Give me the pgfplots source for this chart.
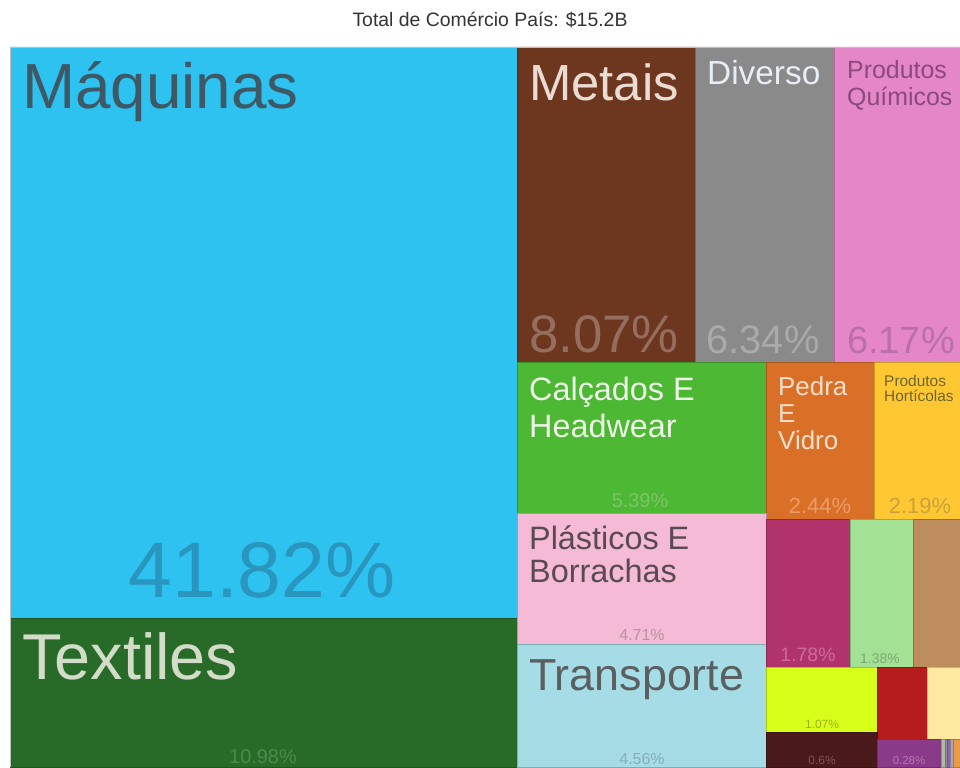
\documentclass[border=0pt]{standalone}
\usepackage{pgfplots}
\pgfplotsset{compat=1.18}
\usepackage{fontspec}
\setmainfont{Liberation Sans}
\definecolor{cMaq}{HTML}{2DC2F0}
\definecolor{cTex}{HTML}{286B29}
\definecolor{cMet}{HTML}{6D361E}
\definecolor{cDiv}{HTML}{8A8A8A}
\definecolor{cQui}{HTML}{E586C8}
\definecolor{cCal}{HTML}{4DB833}
\definecolor{cPed}{HTML}{DA6F28}
\definecolor{cHor}{HTML}{FFC832}
\definecolor{cPla}{HTML}{F5BAD5}
\definecolor{cTra}{HTML}{A5DCE5}
\definecolor{cMag}{HTML}{B1336C}
\definecolor{cLgr}{HTML}{A3E295}
\definecolor{cBro}{HTML}{BE8D5D}
\definecolor{cYgr}{HTML}{D7FF1A}
\definecolor{cRed}{HTML}{B71C1C}
\definecolor{cLye}{HTML}{FFE9A0}
\definecolor{cDbr}{HTML}{4A1A1A}
\definecolor{cPur}{HTML}{8A3A88}
\definecolor{cS1}{HTML}{A8C0A0}
\definecolor{cS2}{HTML}{9A8AB0}
\definecolor{cS3}{HTML}{8A6A9A}
\definecolor{cS4}{HTML}{B0A0C0}
\definecolor{cOra}{HTML}{E89A48}
\newcommand{\cell}[5]{\addplot[fill=#5, draw=#5!78!black, line width=0.7pt] coordinates {(#1,#2) (#3,#2) (#3,#4) (#1,#4) (#1,#2)};}
\newcommand{\fs}[1]{\fontsize{#1}{#1}\selectfont}
\begin{document}
\begin{tikzpicture}
\begin{axis}[width=960bp, height=767bp, scale only axis,
  xmin=0, xmax=960, ymin=0, ymax=767, y dir=reverse,
  hide axis, clip=true, no markers]
\path (axis cs:0,0) rectangle (axis cs:960,767);
\cell{10}{47}{517}{618}{cMaq}
\cell{10}{618}{517}{767}{cTex}
\cell{517}{47}{695}{362}{cMet}
\cell{695}{47}{834}{362}{cDiv}
\cell{834}{47}{960}{362}{cQui}
\cell{517}{362}{766}{513}{cCal}
\cell{766}{362}{874}{519}{cPed}
\cell{874}{362}{960}{519}{cHor}
\cell{517}{513}{766}{644}{cPla}
\cell{517}{644}{766}{767}{cTra}
\cell{766}{519}{850}{667}{cMag}
\cell{850}{519}{913}{667}{cLgr}
\cell{913}{519}{960}{667}{cBro}
\cell{766}{667}{877}{732}{cYgr}
\cell{877}{667}{927}{739}{cRed}
\cell{927}{667}{960}{739}{cLye}
\cell{766}{732}{877}{767}{cDbr}
\cell{877}{739}{941}{767}{cPur}
\cell{941}{739}{945}{767}{cS1}
\cell{945}{739}{947}{767}{cS2}
\cell{947}{739}{950}{767}{cS3}
\cell{950}{739}{953}{767}{cS4}
\cell{953}{739}{960}{767}{cOra}
\addplot[draw=black!25, line width=0.8pt] coordinates {(10,767) (10,47) (960,47)};
% title
\node[anchor=base, font=\fs{19.5}, text=black!80] at (axis cs:490,27) {Total de Comércio País: \$15.2B};
% labels
\node[anchor=base west, font=\fs{64}, text={rgb,255:red,63;green,88;blue,102}, inner sep=0] at (axis cs:22,108) {Máquinas};
\node[anchor=base, font=\fs{79}, text={rgb,255:red,40;green,150;blue,190}, inner sep=0] at (axis cs:262,597) {41.82\%};
\node[anchor=base west, font=\fs{65}, text={rgb,255:red,211;green,220;blue,200}, inner sep=0] at (axis cs:22,679) {Textiles};
\node[anchor=base, font=\fs{20}, text={rgb,255:red,76;green,138;blue,76}, inner sep=0] at (axis cs:263,763) {10.98\%};
\node[anchor=base west, font=\fs{51}, text={rgb,255:red,234;green,220;blue,211}, inner sep=0] at (axis cs:529,100) {Metais};
\node[anchor=base, font=\fs{53}, text={rgb,255:red,150;green,110;blue,95}, inner sep=0] at (axis cs:604,352) {8.07\%};
\node[anchor=base west, font=\fs{33.5}, text={rgb,255:red,232;green,238;blue,245}, inner sep=0] at (axis cs:707,85) {Diverso};
\node[anchor=base, font=\fs{40}, text={rgb,255:red,170;green,170;blue,170}, inner sep=0] at (axis cs:763,353) {6.34\%};
\node[anchor=base west, font=\fs{25}, text={rgb,255:red,138;green,74;blue,124}, inner sep=0] at (axis cs:847,79) {Produtos};
\node[anchor=base west, font=\fs{25}, text={rgb,255:red,138;green,74;blue,124}, inner sep=0] at (axis cs:847,105) {Químicos};
\node[anchor=base, font=\fs{38}, text={rgb,255:red,184;green,112;blue,168}, inner sep=0] at (axis cs:901,353) {6.17\%};
\node[anchor=base west, font=\fs{32.5}, text={rgb,255:red,238;green,245;blue,232}, inner sep=0] at (axis cs:529,400) {Calçados E};
\node[anchor=base west, font=\fs{32.5}, text={rgb,255:red,238;green,245;blue,232}, inner sep=0] at (axis cs:529,437) {Headwear};
\node[anchor=base, font=\fs{20}, text={rgb,255:red,126;green,196;blue,104}, inner sep=0] at (axis cs:640,507) {5.39\%};
\node[anchor=base west, font=\fs{26}, text={rgb,255:red,245;green,224;blue,204}, inner sep=0] at (axis cs:778,395) {Pedra};
\node[anchor=base west, font=\fs{26}, text={rgb,255:red,245;green,224;blue,204}, inner sep=0] at (axis cs:778,422) {E};
\node[anchor=base west, font=\fs{26}, text={rgb,255:red,245;green,224;blue,204}, inner sep=0] at (axis cs:778,449) {Vidro};
\node[anchor=base, font=\fs{22}, text={rgb,255:red,236;green,156;blue,102}, inner sep=0] at (axis cs:820,513) {2.44\%};
\node[anchor=base west, font=\fs{15.5}, text={rgb,255:red,110;green,102;blue,48}, inner sep=0] at (axis cs:884,386) {Produtos};
\node[anchor=base west, font=\fs{15.5}, text={rgb,255:red,110;green,102;blue,48}, inner sep=0] at (axis cs:884,401) {Hortícolas};
\node[anchor=base, font=\fs{22}, text={rgb,255:red,201;green,162;blue,58}, inner sep=0] at (axis cs:920,513) {2.19\%};
\node[anchor=base west, font=\fs{32.5}, text={rgb,255:red,90;green,74;blue,82}, inner sep=0] at (axis cs:529,549) {Plásticos E};
\node[anchor=base west, font=\fs{32.5}, text={rgb,255:red,90;green,74;blue,82}, inner sep=0] at (axis cs:529,582) {Borrachas};
\node[anchor=base, font=\fs{16}, text={rgb,255:red,184;green,147;blue,159}, inner sep=0] at (axis cs:642,640) {4.71\%};
\node[anchor=base west, font=\fs{45}, text={rgb,255:red,90;green,95;blue,98}, inner sep=0] at (axis cs:529,690) {Transporte};
\node[anchor=base, font=\fs{16}, text={rgb,255:red,136;green,174;blue,182}, inner sep=0] at (axis cs:642,764) {4.56\%};
\node[anchor=base, font=\fs{19.5}, text={rgb,255:red,204;green,106;blue,152}, inner sep=0] at (axis cs:808,661) {1.78\%};
\node[anchor=base, font=\fs{14}, text={rgb,255:red,127;green,168;blue,115}, inner sep=0] at (axis cs:880,663) {1.38\%};
\node[anchor=base, font=\fs{12}, text={rgb,255:red,159;green,178;blue,28}, inner sep=0] at (axis cs:822,728) {1.07\%};
\node[anchor=base, font=\fs{12}, text={rgb,255:red,122;green,85;blue,85}, inner sep=0] at (axis cs:822,764) {0.6\%};
\node[anchor=base, font=\fs{11.5}, text={rgb,255:red,178;green,122;blue,176}, inner sep=0] at (axis cs:909,764) {0.28\%};
\end{axis}
\end{tikzpicture}
\end{document}
